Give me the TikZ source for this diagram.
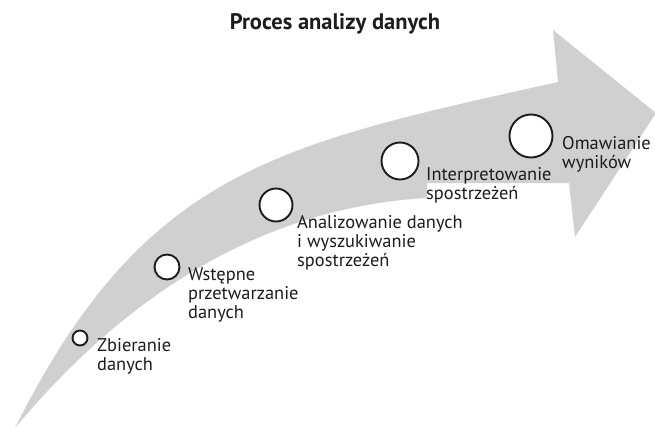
\documentclass[tikz,border=0pt]{standalone}
\usepackage{fontspec}
\setmainfont{PT Sans}
\definecolor{arrowgray}{RGB}{208,208,208}
\definecolor{ink}{RGB}{28,28,28}
\begin{document}
\begin{tikzpicture}[x=1pt,y=-1pt,
  lbl/.style={anchor=base west, inner sep=0pt, align=left, font=\fontsize{18.4}{19}\selectfont, text=ink},
  dot/.style={circle, draw=ink, line width=1.9pt, fill=white, inner sep=0pt, minimum size=#1}]
\useasboundingbox (0,0) rectangle (655,426);
% swoosh arrow
\fill[arrowgray] (15,428) .. controls (145,168) and (280,144) .. (558,82)
  -- (553,30) -- (656,113) -- (575,237) -- (569,183) -- (427,183) -- (427,198)
  .. controls (250,208) and (115,308) .. (15,428) -- cycle;
% title
\node[font=\bfseries\fontsize{22.5}{26}\selectfont, text=ink, anchor=base, inner sep=0pt] (title) at (335,29) {Proces analizy danych};
% steps
\node[dot=15pt] (c1) at (80,338) {};
\node[dot=25pt] (c2) at (167,267) {};
\node[dot=33pt] (c3) at (276,205) {};
\node[dot=37pt] (c4) at (400,161) {};
\node[dot=43pt] (c5) at (531,136) {};
% labels (anchor = baseline of the last line)
\node[lbl] (l1) at (97,370) {Zbieranie\\danych};
\node[lbl] (l2) at (188,318) {Wstępne\\przetwarzanie\\danych};
\node[lbl] (l3) at (297,266) {Analizowanie danych\\i wyszukiwanie\\spostrzeżeń};
\node[lbl] (l4) at (426,199) {Interpretowanie\\spostrzeżeń};
\node[lbl] (l5) at (562,168) {Omawianie\\wyników};
\end{tikzpicture}
\end{document}
